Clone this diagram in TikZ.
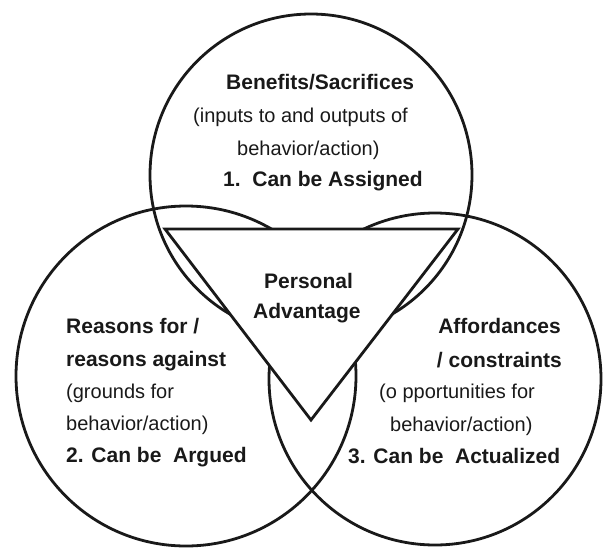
\documentclass[tikz,border=0pt]{standalone}
\usepackage{fontspec}
\setmainfont{Liberation Sans}
\begin{document}
\begin{tikzpicture}[x=1pt,y=-1pt,
  circ/.style={line width=2.8pt,draw=black!90},
  tri/.style={line width=2.8pt,draw=black!90,fill=white,line join=miter},
  bt/.style={inner sep=0pt,font=\fontsize{21}{25}\selectfont\bfseries,text=black!90},
  rt/.style={inner sep=0pt,font=\fontsize{20}{24}\selectfont,text=black!90}]
\useasboundingbox (0,0) rectangle (603,547);
% circles
\draw[circ] (311,175) circle[radius=161];
\draw[circ] (186,376) circle[radius=170];
\draw[circ] (435,379) circle[radius=166];
% triangle
\coordinate (ta) at (165,229);
\coordinate (tb) at (458,229);
\coordinate (tc) at (311,420);
\draw[tri] (ta) -- (tb) -- (tc) -- cycle;
% top text
\node[bt,anchor=base west] (t1) at (226,89) {Benefits/Sacrifices};
\node[rt,anchor=base west] (t2) at (193,122) {(inputs to and outputs of};
\node[rt,anchor=base west] (t3) at (237,155) {behavior/action)};
\node[bt,anchor=base west] (t4) at (223,186) {1.~~Can be Assigned};
% middle
\node[bt,anchor=base west] (m1) at (264,288) {Personal};
\node[bt,anchor=base west] (m2) at (253,318) {Advantage};
% left text
\node[bt,anchor=base west] (l1) at (66,333) {Reasons for /};
\node[bt,anchor=base west] (l2) at (66,366) {reasons against};
\node[rt,anchor=base west] (l3) at (66,398) {(grounds for};
\node[rt,anchor=base west] (l4) at (66,430) {behavior/action)};
\node[bt,anchor=base west] (l5) at (66,462) {2. Can be~~Argued};
% right text
\node[bt,anchor=base east] (r1) at (561,333) {Affordances};
\node[bt,anchor=base east] (r2) at (562,367) {/ constraints};
\node[rt,anchor=base west] (r3) at (379,398) {(o pportunities for};
\node[rt,anchor=base west] (r4) at (390,431) {behavior/action)};
\node[bt,anchor=base west] (r5) at (348,463) {3. Can be~~Actualized};
\end{tikzpicture}
\end{document}
